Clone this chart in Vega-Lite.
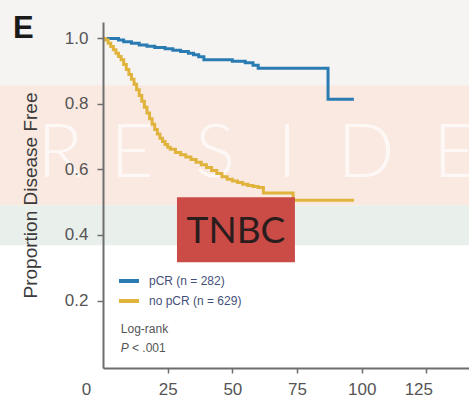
{
  "$schema": "https://vega.github.io/schema/vega-lite/v6.json",
  "width": 366,
  "height": 346,
  "autosize": {"type": "none"},
  "padding": {"left": 103, "top": 22, "right": 0, "bottom": 34},
  "background": "#ffffff",
  "title": {"text": "E", "anchor": "start", "frame": "group", "dx": -90, "dy": 69, "baseline": "alphabetic", "offset": 0, "fontSize": 31, "fontWeight": "bold", "font": "Liberation Sans", "color": "#1a1a1a", "zindex": 2},
  "config": {
    "view": {"stroke": null},
    "axis": {"zindex": 2, "grid": false, "labelFont": "Liberation Sans", "titleFont": "Liberation Sans", "domainColor": "#6e6e6e", "domainWidth": 2, "tickColor": "#6e6e6e", "tickWidth": 1.5, "tickSize": 6, "labelColor": "#555555", "labelFontSize": 17}
  },
  "datasets": {
    "curves": [
      {"group": "pCR (n = 282)", "t": 0, "s": 1.0},
      {"group": "pCR (n = 282)", "t": 6, "s": 0.995},
      {"group": "pCR (n = 282)", "t": 8, "s": 0.99},
      {"group": "pCR (n = 282)", "t": 11, "s": 0.985},
      {"group": "pCR (n = 282)", "t": 14, "s": 0.98},
      {"group": "pCR (n = 282)", "t": 17, "s": 0.976},
      {"group": "pCR (n = 282)", "t": 20, "s": 0.972},
      {"group": "pCR (n = 282)", "t": 24, "s": 0.968},
      {"group": "pCR (n = 282)", "t": 27, "s": 0.964},
      {"group": "pCR (n = 282)", "t": 30, "s": 0.96},
      {"group": "pCR (n = 282)", "t": 33, "s": 0.955},
      {"group": "pCR (n = 282)", "t": 35, "s": 0.95},
      {"group": "pCR (n = 282)", "t": 37, "s": 0.944},
      {"group": "pCR (n = 282)", "t": 39, "s": 0.935},
      {"group": "pCR (n = 282)", "t": 50, "s": 0.93},
      {"group": "pCR (n = 282)", "t": 55, "s": 0.926},
      {"group": "pCR (n = 282)", "t": 58, "s": 0.918},
      {"group": "pCR (n = 282)", "t": 60, "s": 0.909},
      {"group": "pCR (n = 282)", "t": 87, "s": 0.814},
      {"group": "pCR (n = 282)", "t": 97, "s": 0.814},
      {"group": "no pCR (n = 629)", "t": 0, "s": 1.0},
      {"group": "no pCR (n = 629)", "t": 1, "s": 0.995},
      {"group": "no pCR (n = 629)", "t": 2, "s": 0.985},
      {"group": "no pCR (n = 629)", "t": 3, "s": 0.975},
      {"group": "no pCR (n = 629)", "t": 4, "s": 0.965},
      {"group": "no pCR (n = 629)", "t": 5, "s": 0.955},
      {"group": "no pCR (n = 629)", "t": 6, "s": 0.945},
      {"group": "no pCR (n = 629)", "t": 7, "s": 0.935},
      {"group": "no pCR (n = 629)", "t": 8, "s": 0.92},
      {"group": "no pCR (n = 629)", "t": 9, "s": 0.905},
      {"group": "no pCR (n = 629)", "t": 10, "s": 0.89},
      {"group": "no pCR (n = 629)", "t": 11, "s": 0.875},
      {"group": "no pCR (n = 629)", "t": 12, "s": 0.86},
      {"group": "no pCR (n = 629)", "t": 13, "s": 0.843},
      {"group": "no pCR (n = 629)", "t": 14, "s": 0.826},
      {"group": "no pCR (n = 629)", "t": 15, "s": 0.808},
      {"group": "no pCR (n = 629)", "t": 16, "s": 0.79},
      {"group": "no pCR (n = 629)", "t": 17, "s": 0.772},
      {"group": "no pCR (n = 629)", "t": 18, "s": 0.755},
      {"group": "no pCR (n = 629)", "t": 19, "s": 0.738},
      {"group": "no pCR (n = 629)", "t": 20, "s": 0.722},
      {"group": "no pCR (n = 629)", "t": 21, "s": 0.708},
      {"group": "no pCR (n = 629)", "t": 22, "s": 0.695},
      {"group": "no pCR (n = 629)", "t": 23, "s": 0.685},
      {"group": "no pCR (n = 629)", "t": 24, "s": 0.676},
      {"group": "no pCR (n = 629)", "t": 25, "s": 0.668},
      {"group": "no pCR (n = 629)", "t": 26, "s": 0.662},
      {"group": "no pCR (n = 629)", "t": 28, "s": 0.652},
      {"group": "no pCR (n = 629)", "t": 30, "s": 0.645},
      {"group": "no pCR (n = 629)", "t": 32, "s": 0.638},
      {"group": "no pCR (n = 629)", "t": 34, "s": 0.63},
      {"group": "no pCR (n = 629)", "t": 36, "s": 0.622},
      {"group": "no pCR (n = 629)", "t": 38, "s": 0.614},
      {"group": "no pCR (n = 629)", "t": 40, "s": 0.606},
      {"group": "no pCR (n = 629)", "t": 42, "s": 0.597},
      {"group": "no pCR (n = 629)", "t": 44, "s": 0.588},
      {"group": "no pCR (n = 629)", "t": 46, "s": 0.578},
      {"group": "no pCR (n = 629)", "t": 48, "s": 0.57},
      {"group": "no pCR (n = 629)", "t": 50, "s": 0.565},
      {"group": "no pCR (n = 629)", "t": 52, "s": 0.56},
      {"group": "no pCR (n = 629)", "t": 54, "s": 0.555},
      {"group": "no pCR (n = 629)", "t": 56, "s": 0.551},
      {"group": "no pCR (n = 629)", "t": 58, "s": 0.548},
      {"group": "no pCR (n = 629)", "t": 60, "s": 0.545},
      {"group": "no pCR (n = 629)", "t": 62, "s": 0.528},
      {"group": "no pCR (n = 629)", "t": 73.5, "s": 0.506},
      {"group": "no pCR (n = 629)", "t": 97, "s": 0.506}
    ],
    "watermark": [
      {"letter": "R", "t": -16.6, "s": 0.576},
      {"letter": "E", "t": 11.2, "s": 0.576},
      {"letter": "S", "t": 43.3, "s": 0.576},
      {"letter": "I", "t": 71.1, "s": 0.576},
      {"letter": "D", "t": 101.7, "s": 0.576},
      {"letter": "E", "t": 136, "s": 0.576}
    ]
  },
  "layer": [
    {
      "data": {"values": [{"lo": 0.857, "hi": 1.117}]},
      "mark": {"type": "rect", "color": "#f5f4f2", "clip": false},
      "encoding": {
        "x": {"datum": -40, "type": "quantitative", "scale": {"domain": [0, 141.5], "nice": false, "zero": false}},
        "x2": {"datum": 142},
        "y": {"field": "lo", "type": "quantitative", "scale": {"domain": [-0.006, 1.05], "nice": false, "zero": false}},
        "y2": {"field": "hi"}
      }
    },
    {
      "data": {"values": [{"lo": 0.491, "hi": 0.857}]},
      "mark": {"type": "rect", "color": "#f9e9e0", "clip": false},
      "encoding": {
        "x": {"datum": -40, "type": "quantitative", "scale": {"domain": [0, 141.5], "nice": false, "zero": false}},
        "x2": {"datum": 142},
        "y": {"field": "lo", "type": "quantitative", "scale": {"domain": [-0.006, 1.05], "nice": false, "zero": false}},
        "y2": {"field": "hi"}
      }
    },
    {
      "data": {"values": [{"lo": 0.369, "hi": 0.491}]},
      "mark": {"type": "rect", "color": "#e9efea", "clip": false},
      "encoding": {
        "x": {"datum": -40, "type": "quantitative", "scale": {"domain": [0, 141.5], "nice": false, "zero": false}},
        "x2": {"datum": 142},
        "y": {"field": "lo", "type": "quantitative", "scale": {"domain": [-0.006, 1.05], "nice": false, "zero": false}},
        "y2": {"field": "hi"}
      }
    },
    {
      "data": {"name": "watermark"},
      "mark": {"type": "text", "font": "Lato", "fontWeight": 300, "fontSize": 75, "color": "#ffffff", "opacity": 0.7, "align": "center", "baseline": "alphabetic", "clip": false},
      "encoding": {
        "x": {"field": "t", "type": "quantitative", "scale": {"domain": [0, 141.5], "nice": false, "zero": false}},
        "y": {"field": "s", "type": "quantitative", "scale": {"domain": [-0.006, 1.05], "nice": false, "zero": false}},
        "text": {"field": "letter"}
      }
    },
    {
      "data": {"name": "curves"},
      "mark": {"type": "line", "interpolate": "step-after", "strokeWidth": 3},
      "encoding": {
        "x": {"field": "t", "type": "quantitative", "scale": {"domain": [0, 141.5], "nice": false, "zero": false},
          "axis": {"zindex": 3, "title": null, "values": [0, 25, 50, 75, 100, 125], "tickSize": 5, "labelPadding": 8, "labelOverlap": false, "labelFlush": false,
            "labelOffset": {"condition": [{"test": "datum.value === 0", "value": -17}, {"test": "datum.value === 125", "value": -8}], "value": 0},
            "tickOpacity": {"condition": {"test": "datum.value === 0", "value": 0}, "value": 1}}},
        "y": {"field": "s", "type": "quantitative", "scale": {"domain": [-0.006, 1.05], "nice": false, "zero": false},
          "axis": {"zindex": 3, "title": "Proportion Disease Free", "titleFontSize": 19, "titleFontWeight": "normal", "titleColor": "#3a3a3a", "titlePadding": 24, "values": [0.2, 0.4, 0.6, 0.8, 1.0], "format": ".1f", "labelPadding": 9}},
        "color": {"field": "group", "type": "nominal", "sort": ["pCR (n = 282)", "no pCR (n = 629)"],
          "scale": {"domain": ["pCR (n = 282)", "no pCR (n = 629)"], "range": ["#2b7bb3", "#e0b43c"]},
          "legend": {"title": null, "orient": "none", "legendX": 14, "legendY": 247, "padding": 0, "symbolType": "stroke", "symbolStrokeWidth": 4, "symbolSize": 400, "labelFont": "Liberation Sans", "labelFontSize": 12, "labelColor": "#45507a", "labelOffset": 8, "rowPadding": 0}}
      }
    },
    {
      "data": {"values": [{"x1": 28.6, "x2": 74.2, "y1": 0.317, "y2": 0.515}]},
      "mark": {"type": "rect", "color": "#cb4b46"},
      "encoding": {
        "x": {"field": "x1", "type": "quantitative", "scale": {"domain": [0, 141.5], "nice": false, "zero": false}},
        "x2": {"field": "x2"},
        "y": {"field": "y1", "type": "quantitative", "scale": {"domain": [-0.006, 1.05], "nice": false, "zero": false}},
        "y2": {"field": "y2"}
      }
    },
    {
      "data": {"values": [{"label": "TNBC", "t": 51.4, "s": 0.375}]},
      "mark": {"type": "text", "font": "Lato", "fontSize": 37, "color": "#2a1d1d", "align": "center", "baseline": "alphabetic"},
      "encoding": {
        "x": {"field": "t", "type": "quantitative", "scale": {"domain": [0, 141.5], "nice": false, "zero": false}},
        "y": {"field": "s", "type": "quantitative", "scale": {"domain": [-0.006, 1.05], "nice": false, "zero": false}},
        "text": {"field": "label"}
      }
    },
    {
      "data": {"values": [{"label": "Log-rank", "t": 6.9, "s": 0.1}, {"label": "< .001", "t": 11.2, "s": 0.043}]},
      "mark": {"type": "text", "font": "Liberation Sans", "fontSize": 12, "color": "#555555", "align": "left", "baseline": "alphabetic"},
      "encoding": {
        "x": {"field": "t", "type": "quantitative", "scale": {"domain": [0, 141.5], "nice": false, "zero": false}},
        "y": {"field": "s", "type": "quantitative", "scale": {"domain": [-0.006, 1.05], "nice": false, "zero": false}},
        "text": {"field": "label"}
      }
    },
    {
      "data": {"values": [{"label": "P", "t": 6.9, "s": 0.043}]},
      "mark": {"type": "text", "font": "Liberation Sans", "fontSize": 12, "fontStyle": "italic", "color": "#555555", "align": "left", "baseline": "alphabetic"},
      "encoding": {
        "x": {"field": "t", "type": "quantitative", "scale": {"domain": [0, 141.5], "nice": false, "zero": false}},
        "y": {"field": "s", "type": "quantitative", "scale": {"domain": [-0.006, 1.05], "nice": false, "zero": false}},
        "text": {"field": "label"}
      }
    }
  ]
}
